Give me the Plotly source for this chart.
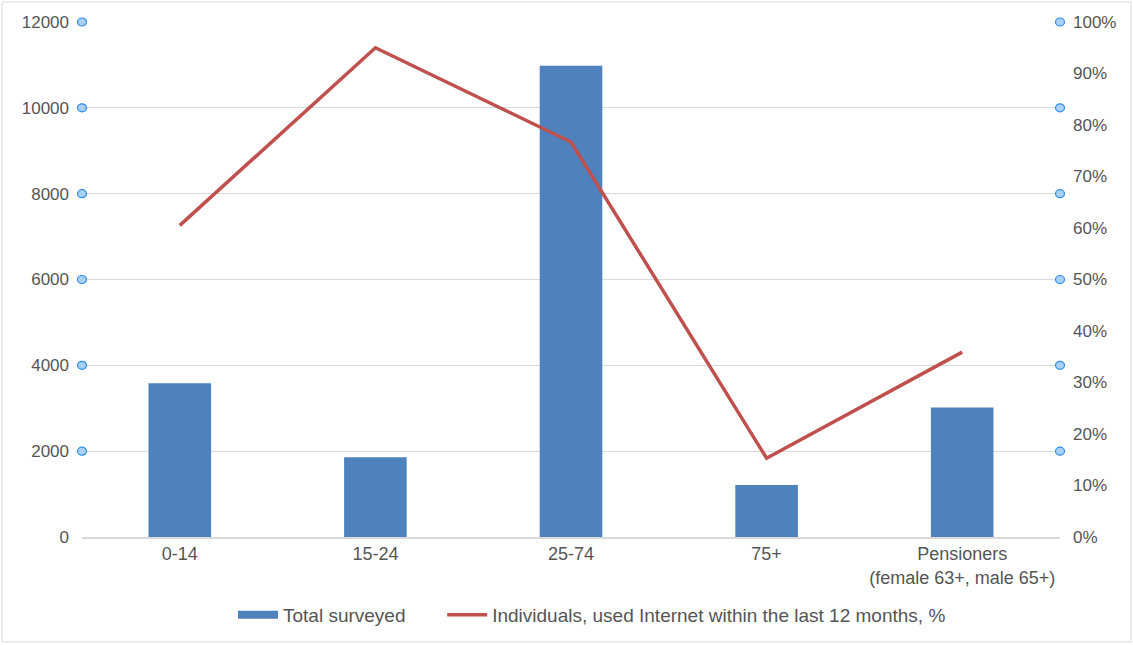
import plotly.graph_objects as go

categories = ["0-14", "15-24", "25-74", "75+", "Pensioners<br>(female 63+, male 65+)"]
total_surveyed = [3580, 1860, 10980, 1210, 3020]
internet_pct = [60.5, 95.0, 76.7, 15.3, 35.9]
left_ticks = [0, 2000, 4000, 6000, 8000, 10000, 12000]
left_labels = [str(v) for v in left_ticks]
right_ticks = [0, 10, 20, 30, 40, 50, 60, 70, 80, 90, 100]
right_labels = [f"{v}%" for v in right_ticks]

W, H = 1133, 645
L, R, T, B = 82, 73, 22, 107
font = "Liberation Sans, Arial, Helvetica, sans-serif"
txt = "#555555"

fig = go.Figure()
fig.add_trace(go.Bar(x=categories, y=total_surveyed, name="Total surveyed", showlegend=False,
                     marker=dict(color="#4f81bd", line=dict(width=0)), width=0.32))
fig.add_trace(go.Scatter(x=[None], y=[None], name="Total surveyed" + "\u00a0" * 6, mode="lines",
                         line=dict(color="#4f81bd", width=8)))
fig.add_trace(go.Scatter(x=categories, y=internet_pct, name="Individuals, used Internet within the last 12 months, %",
                         mode="lines", line=dict(color="#c0504d", width=3.5), yaxis="y2"))

shapes = []
ymax = left_ticks[-1]
for v in left_ticks[1:]:
    for xa in (0, 1):
        shapes.append(dict(type="circle", xref="paper", yref="paper", xsizemode="pixel", ysizemode="pixel",
                           xanchor=xa, yanchor=v / ymax, x0=-4.5, x1=4.5, y0=-4, y1=4,
                           fillcolor="#a9d1f7", line=dict(color="#2f8be6", width=1.2), layer="above"))
pw, ph = W - L - R, H - T - B
shapes.append(dict(type="rect", xref="paper", yref="paper",
                   x0=(2 - L) / pw, x1=(W - 2 - L) / pw, y0=-(H - 2 - T - ph) / ph, y1=1 + (T - 2) / ph,
                   line=dict(color="#d9d9d9", width=1), fillcolor="rgba(0,0,0,0)", layer="below"))

fig.update_layout(
    width=W, height=H, margin=dict(l=L, r=R, t=T, b=B),
    paper_bgcolor="white", plot_bgcolor="white",
    font=dict(family=font, size=17, color=txt),
    bargap=0.68, showlegend=True,
    legend=dict(orientation="h", x=(233 - L) / pw, xanchor="left", y=-0.149, yanchor="middle",
                font=dict(size=19, color=txt), itemwidth=40, tracegroupgap=0),
    xaxis=dict(showgrid=False, showline=True, linecolor="#d9d9d9", linewidth=1.5,
               tickfont=dict(size=18, color=txt), ticks="", fixedrange=True),
    yaxis=dict(range=[0, ymax], tickvals=left_ticks, ticktext=left_labels, showgrid=True,
               gridcolor="#d9d9d9", gridwidth=1.2,
               zeroline=False, showline=False, ticks="", ticklabelstandoff=12,
               tickfont=dict(size=17, color=txt)),
    yaxis2=dict(range=[0, 100], tickvals=right_ticks, ticktext=right_labels, overlaying="y", side="right",
                showgrid=False, zeroline=False, showline=False, ticks="", ticklabelstandoff=12,
                tickfont=dict(size=17, color=txt)),
    shapes=shapes,
)

fig.write_html("out.html")
